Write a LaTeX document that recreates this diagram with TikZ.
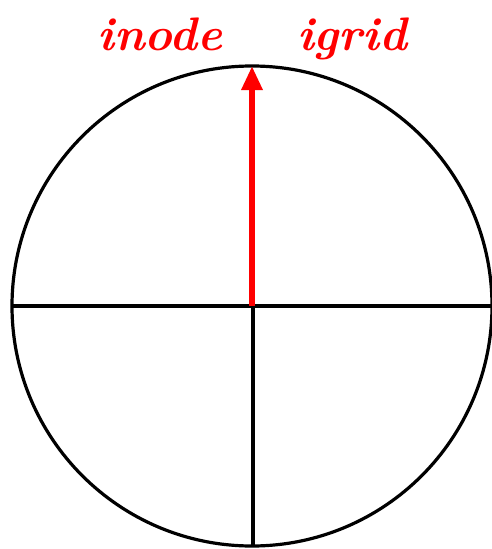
\documentclass[tikz,border=0pt]{standalone}
\usetikzlibrary{arrows.meta}
\begin{document}
\begin{tikzpicture}[x=1pt,y=-1pt,
  lineblk/.style={draw=black,line width=3.2pt},
  redarrow/.style={draw=red,line width=6.5pt,-{Triangle[length=24pt,width=20pt]}},
  lbl/.style={text=red,font=\fontsize{47}{47}\selectfont\bfseries\itshape,inner sep=0pt,anchor=base}]
\useasboundingbox (0,0) rectangle (492,549);
\coordinate (c) at (252,306);
\coordinate (w) at (12,306);
\coordinate (e) at (492,306);
\coordinate (s) at (253,546);
\coordinate (n) at (252,66);
\draw[lineblk] (c) circle[radius=240pt];
\draw[lineblk] (w) -- (e);
\draw[lineblk] (253,306) -- (s);
\draw[redarrow] (c) -- (n);
\node[lbl] (inode) at (160,50) {inode};
\node[lbl] (igrid) at (352,50) {igrid};
\end{tikzpicture}
\end{document}
